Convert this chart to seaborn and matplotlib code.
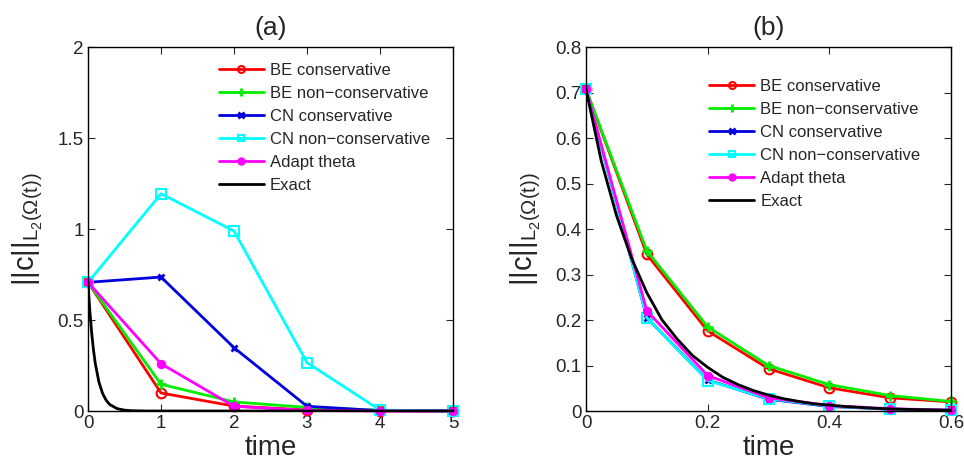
import numpy as np
import pandas as pd
import matplotlib
matplotlib.use("Agg")
import matplotlib.pyplot as plt
from matplotlib.lines import Line2D
import seaborn as sns

# ---- data panel (a) ----
t_a = [0, 1, 2, 3, 4, 5]
be_cons_a = [0.707, 0.099, 0.027, 0.006, 0.001, 0.0]
be_non_a = [0.707, 0.147, 0.050, 0.020, 0.004, 0.001]
cn_cons_a = [0.707, 0.736, 0.348, 0.026, 0.002, 0.0]
cn_non_a = [0.707, 1.194, 0.989, 0.266, 0.005, 0.0]
adapt_a = [0.707, 0.260, 0.026, 0.003, 0.0, 0.0]
exact_t_a = [0, 0.025, 0.05, 0.075, 0.1, 0.15, 0.2, 0.25, 0.3, 0.4, 0.5, 0.6, 0.8, 1, 2, 3, 4, 5]
exact_a = [0.707, 0.55, 0.43, 0.335, 0.26, 0.158, 0.096, 0.058, 0.035, 0.013, 0.0047,
           0.0017, 0.0002, 0.0, 0.0, 0.0, 0.0, 0.0]

# ---- data panel (b) ----
t_b = [0, 0.1, 0.2, 0.3, 0.4, 0.5, 0.6]
be_cons_b = [0.707, 0.344, 0.176, 0.093, 0.051, 0.029, 0.020]
be_non_b = [0.707, 0.352, 0.185, 0.100, 0.058, 0.034, 0.021]
cn_cons_b = [0.707, 0.205, 0.068, 0.026, 0.010, 0.004, 0.0015]
cn_non_b = [0.707, 0.205, 0.067, 0.027, 0.011, 0.004, 0.0015]
adapt_b = [0.707, 0.220, 0.078, 0.029, 0.012, 0.005, 0.002]
exact_t_b = [0, 0.025, 0.05, 0.075, 0.1, 0.125, 0.15, 0.175, 0.2, 0.225, 0.25, 0.275, 0.3,
             0.325, 0.35, 0.375, 0.4, 0.425, 0.45, 0.475, 0.5, 0.525, 0.55, 0.575, 0.6]
exact_b = [0.707, 0.55, 0.43, 0.335, 0.26, 0.20, 0.158, 0.122, 0.096, 0.074, 0.058, 0.045,
           0.035, 0.027, 0.021, 0.016, 0.013, 0.010, 0.008, 0.006, 0.0047, 0.0037, 0.003,
           0.0022, 0.0017]

labels = ["BE conservative", "BE non\u2212conservative", "CN conservative",
          "CN non\u2212conservative", "Adapt theta", "Exact"]

sns.set_style("ticks")
plt.rcParams['font.family'] = ['Liberation Sans', 'DejaVu Sans']
plt.rcParams['mathtext.default'] = 'regular'

fig = plt.figure(figsize=(9.64, 4.70), dpi=100)
ax1 = fig.add_axes([0.0913, 0.1255, 0.3786, 0.7745])
ax2 = fig.add_axes([0.6079, 0.1255, 0.3786, 0.7745])

colors = ["#ff0000", "#00ee00", "#0000dd", "#00ffff", "#ff00ff"]
styles = [
    dict(marker="o", markerfacecolor="none", markeredgewidth=1.5, markersize=7),
    dict(marker="+", markeredgewidth=2, markersize=7),
    dict(marker="x", markeredgewidth=2, markersize=5),
    dict(marker="s", markerfacecolor="none", markeredgewidth=1.5, markersize=7),
    dict(marker="o", markersize=6),
]
leg_sizes = [5, 6, 4, 5, 5]


def draw(ax, t, series, et, ev, xlim, ylim, xticks, yticks, title, legloc):
    for s, col, st in zip(series, colors, styles):
        df = pd.DataFrame({"t": t, "v": s})
        sns.lineplot(data=df, x="t", y="v", ax=ax, color=col, linewidth=2,
                     markeredgecolor=col, clip_on=False, legend=False, **st)
    df = pd.DataFrame({"t": et, "v": ev})
    sns.lineplot(data=df, x="t", y="v", ax=ax, color="black", linewidth=2, legend=False)
    ax.set_xlim(*xlim)
    ax.set_ylim(*ylim)
    ax.set_xticks(xticks)
    ax.set_yticks(yticks)
    ax.set_xticklabels([f"{v:g}" for v in xticks])
    ax.set_yticklabels([f"{v:g}" for v in yticks])
    ax.tick_params(direction="in", top=True, right=True, labelsize=13.5, length=5, width=0.8,
                   pad=3)
    for sp in ax.spines.values():
        sp.set_visible(True)
        sp.set_linewidth(1.0)
        sp.set_color("black")
    ax.set_xlabel("time", fontsize=20, labelpad=2)
    ax.set_ylabel(r"$||c||_{L_2(\Omega(t))}$", fontsize=21, labelpad=9)
    ax.set_title(title, fontsize=19, pad=9)
    handles = []
    for col, st, ms in zip(colors, styles, leg_sizes):
        h = Line2D([], [], color=col, linewidth=2, markeredgecolor=col,
                   **{**st, "markersize": ms})
        handles.append(h)
    handles.append(Line2D([], [], color="black", linewidth=2))
    ax.legend(handles, labels, loc="upper left", bbox_to_anchor=legloc, frameon=False,
              fontsize=12, handlelength=2.7, handletextpad=0.35, labelspacing=0.48,
              borderaxespad=0)


draw(ax1, t_a, [be_cons_a, be_non_a, cn_cons_a, cn_non_a, adapt_a], exact_t_a, exact_a,
     (0, 5), (0, 2), [0, 1, 2, 3, 4, 5], [0, 0.5, 1, 1.5, 2], "(a)", (0.34, 0.975))
draw(ax2, t_b, [be_cons_b, be_non_b, cn_cons_b, cn_non_b, adapt_b], exact_t_b, exact_b,
     (0, 0.6), (0, 0.8), [0, 0.2, 0.4, 0.6], [0, 0.1, 0.2, 0.3, 0.4, 0.5, 0.6, 0.7, 0.8],
     "(b)", (0.32, 0.93))

fig.savefig("out.png", dpi=100)
